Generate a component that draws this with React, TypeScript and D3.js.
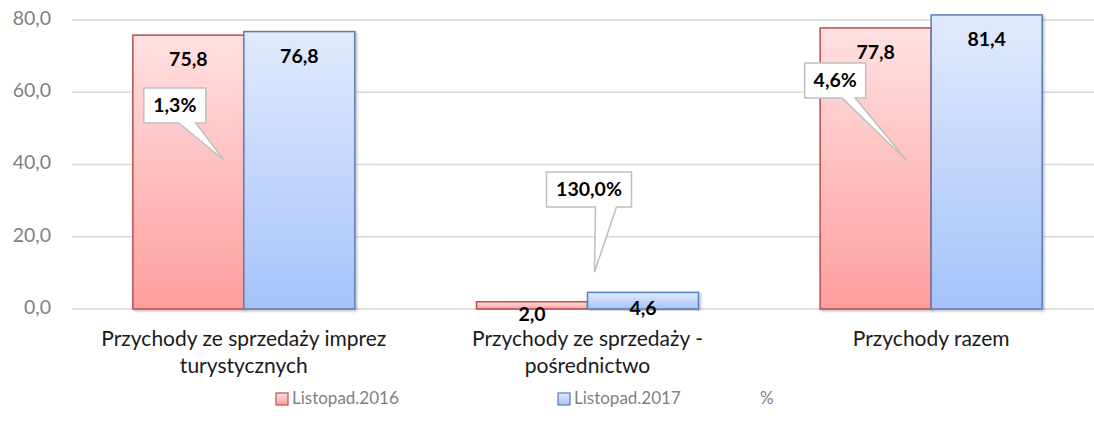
import React from 'react'
import * as d3 from 'd3'

const width = 1094
const height = 428
const margin = { top: 20, right: -9, bottom: 119, left: 72 }

const categories = [
  ['Przychody ze sprzedaży imprez', 'turystycznych'],
  ['Przychody ze sprzedaży -', 'pośrednictwo'],
  ['Przychody razem'],
]
const series = ['Listopad.2016', 'Listopad.2017']
const values2016 = [75.8, 2.0, 77.8]
const values2017 = [76.8, 4.6, 81.4]
const changePct = [1.3, 130.0, 4.6]
const yTicks = [0, 20, 40, 60, 80]

// where the % callouts were dragged to (relative to group centre, in px)
const callouts = [
  { boxDx: -69, boxTop: 88, boxW: 62, baseL: -65, baseR: -48, tipDx: -20, tipY: 160 },
  { boxDx: 1.5, boxTop: 172, boxW: 85, baseL: 8, baseR: 29, tipDx: 7, tipY: 272 },
  { boxDx: -96, boxTop: 63, boxW: 61, baseL: -89, baseR: -76, tipDx: -24, tipY: 161 },
]

const fmt = (v: number) => v.toFixed(1).replace('.', ',')
const font = 'Lato, Carlito, Calibri, sans-serif'

const App = () => {
  const x0 = d3
    .scaleBand<number>()
    .domain(d3.range(categories.length))
    .range([margin.left, width - margin.right])
    .paddingInner(0.354)
    .paddingOuter(0.177)
  const x1 = d3.scaleBand<number>().domain([0, 1]).range([0, x0.bandwidth()])
  const y = d3.scaleLinear().domain([0, 80]).range([height - margin.bottom, margin.top])

  const fills = ['url(#gRed)', 'url(#gBlue)']
  const strokes = ['#b5524f', '#5a7fb6']
  const groupCenter = (i: number) => (x0(i) as number) + x0.bandwidth() / 2

  return (
    <svg width={width} height={height} style={{ position: 'absolute', left: 0, top: 0 }} fontFamily={font}>
      <defs>
        <linearGradient id="gRed" x1="0" y1="0" x2="0" y2="1">
          <stop offset="0" stopColor="#ffe1e1" />
          <stop offset="1" stopColor="#ff9d9d" />
        </linearGradient>
        <linearGradient id="gBlue" x1="0" y1="0" x2="0" y2="1">
          <stop offset="0" stopColor="#e0eafd" />
          <stop offset="1" stopColor="#a5c3fa" />
        </linearGradient>
        <filter id="shadow" x="-5%" y="-5%" width="115%" height="115%">
          <feDropShadow dx="1.5" dy="1.5" stdDeviation="1.2" floodColor="#000" floodOpacity="0.25" />
        </filter>
      </defs>

      {yTicks.map(t => (
        <g key={t}>
          <line x1={margin.left} x2={width} y1={y(t)} y2={y(t)} stroke="#d9d9d9" strokeWidth={1.5} />
          <text x={51} y={y(t)} textAnchor="end" dominantBaseline="middle" fontSize={19.5} fill="#7f7f7f">
            {fmt(t)}
          </text>
        </g>
      ))}

      {categories.map((c, i) =>
        [values2016[i], values2017[i]].map((v, s) => {
          const bx = (x0(i) as number) + (x1(s) as number)
          const by = y(v)
          const h = y(0) - by
          const off = h > 30 ? 26 : s === 0 ? 14 : 18
          return (
            <g key={`${i}-${s}`}>
              <rect
                x={bx}
                y={by}
                width={x1.bandwidth()}
                height={h}
                fill={fills[s]}
                stroke={strokes[s]}
                strokeWidth={1.5}
                filter="url(#shadow)"
              />
              <text
                x={bx + x1.bandwidth() / 2}
                y={by + off}
                textAnchor="middle"
                dominantBaseline="middle"
                fontSize={19.5}
                fontWeight="bold"
                fill="#000"
              >
                {fmt(v)}
              </text>
            </g>
          )
        })
      )}

      {categories.map((c, i) => (
        <text key={i} x={groupCenter(i)} textAnchor="middle" fontSize={21} fill="#1a1a1a">
          {c.map((line, k) => (
            <tspan key={k} x={groupCenter(i)} y={346 + k * 27}>
              {line}
            </tspan>
          ))}
        </text>
      ))}

      {changePct.map((p, i) => {
        const c = callouts[i]
        const cx = groupCenter(i)
        const l = cx + c.boxDx - c.boxW / 2
        const r = l + c.boxW
        const t = c.boxTop
        const b = t + 35
        const path = `M${l},${t}H${r}V${b}H${cx + c.baseR}L${cx + c.tipDx},${c.tipY}L${cx + c.baseL},${b}H${l}Z`
        return (
          <g key={i}>
            <path d={path} fill="#fff" stroke="#bfbfbf" strokeWidth={1.5} />
            <text
              x={(l + r) / 2}
              y={(t + b) / 2 + 1}
              textAnchor="middle"
              dominantBaseline="middle"
              fontSize={19.5}
              fontWeight="bold"
              fill="#000"
            >
              {fmt(p)}%
            </text>
          </g>
        )
      })}

      <g fontSize={17} fill="#7f7f7f">
        {series.map((s, k) => {
          const lx = [276, 558][k]
          return (
            <g key={s}>
              <rect x={lx} y={393} width={12} height={12} fill={fills[k]} stroke={strokes[k]} strokeWidth={1.2} />
              <text x={lx + 16} y={400} dominantBaseline="middle">
                {s}
              </text>
            </g>
          )
        })}
        <text x={760} y={400} dominantBaseline="middle">
          %
        </text>
      </g>
    </svg>
  )
}

export default App
